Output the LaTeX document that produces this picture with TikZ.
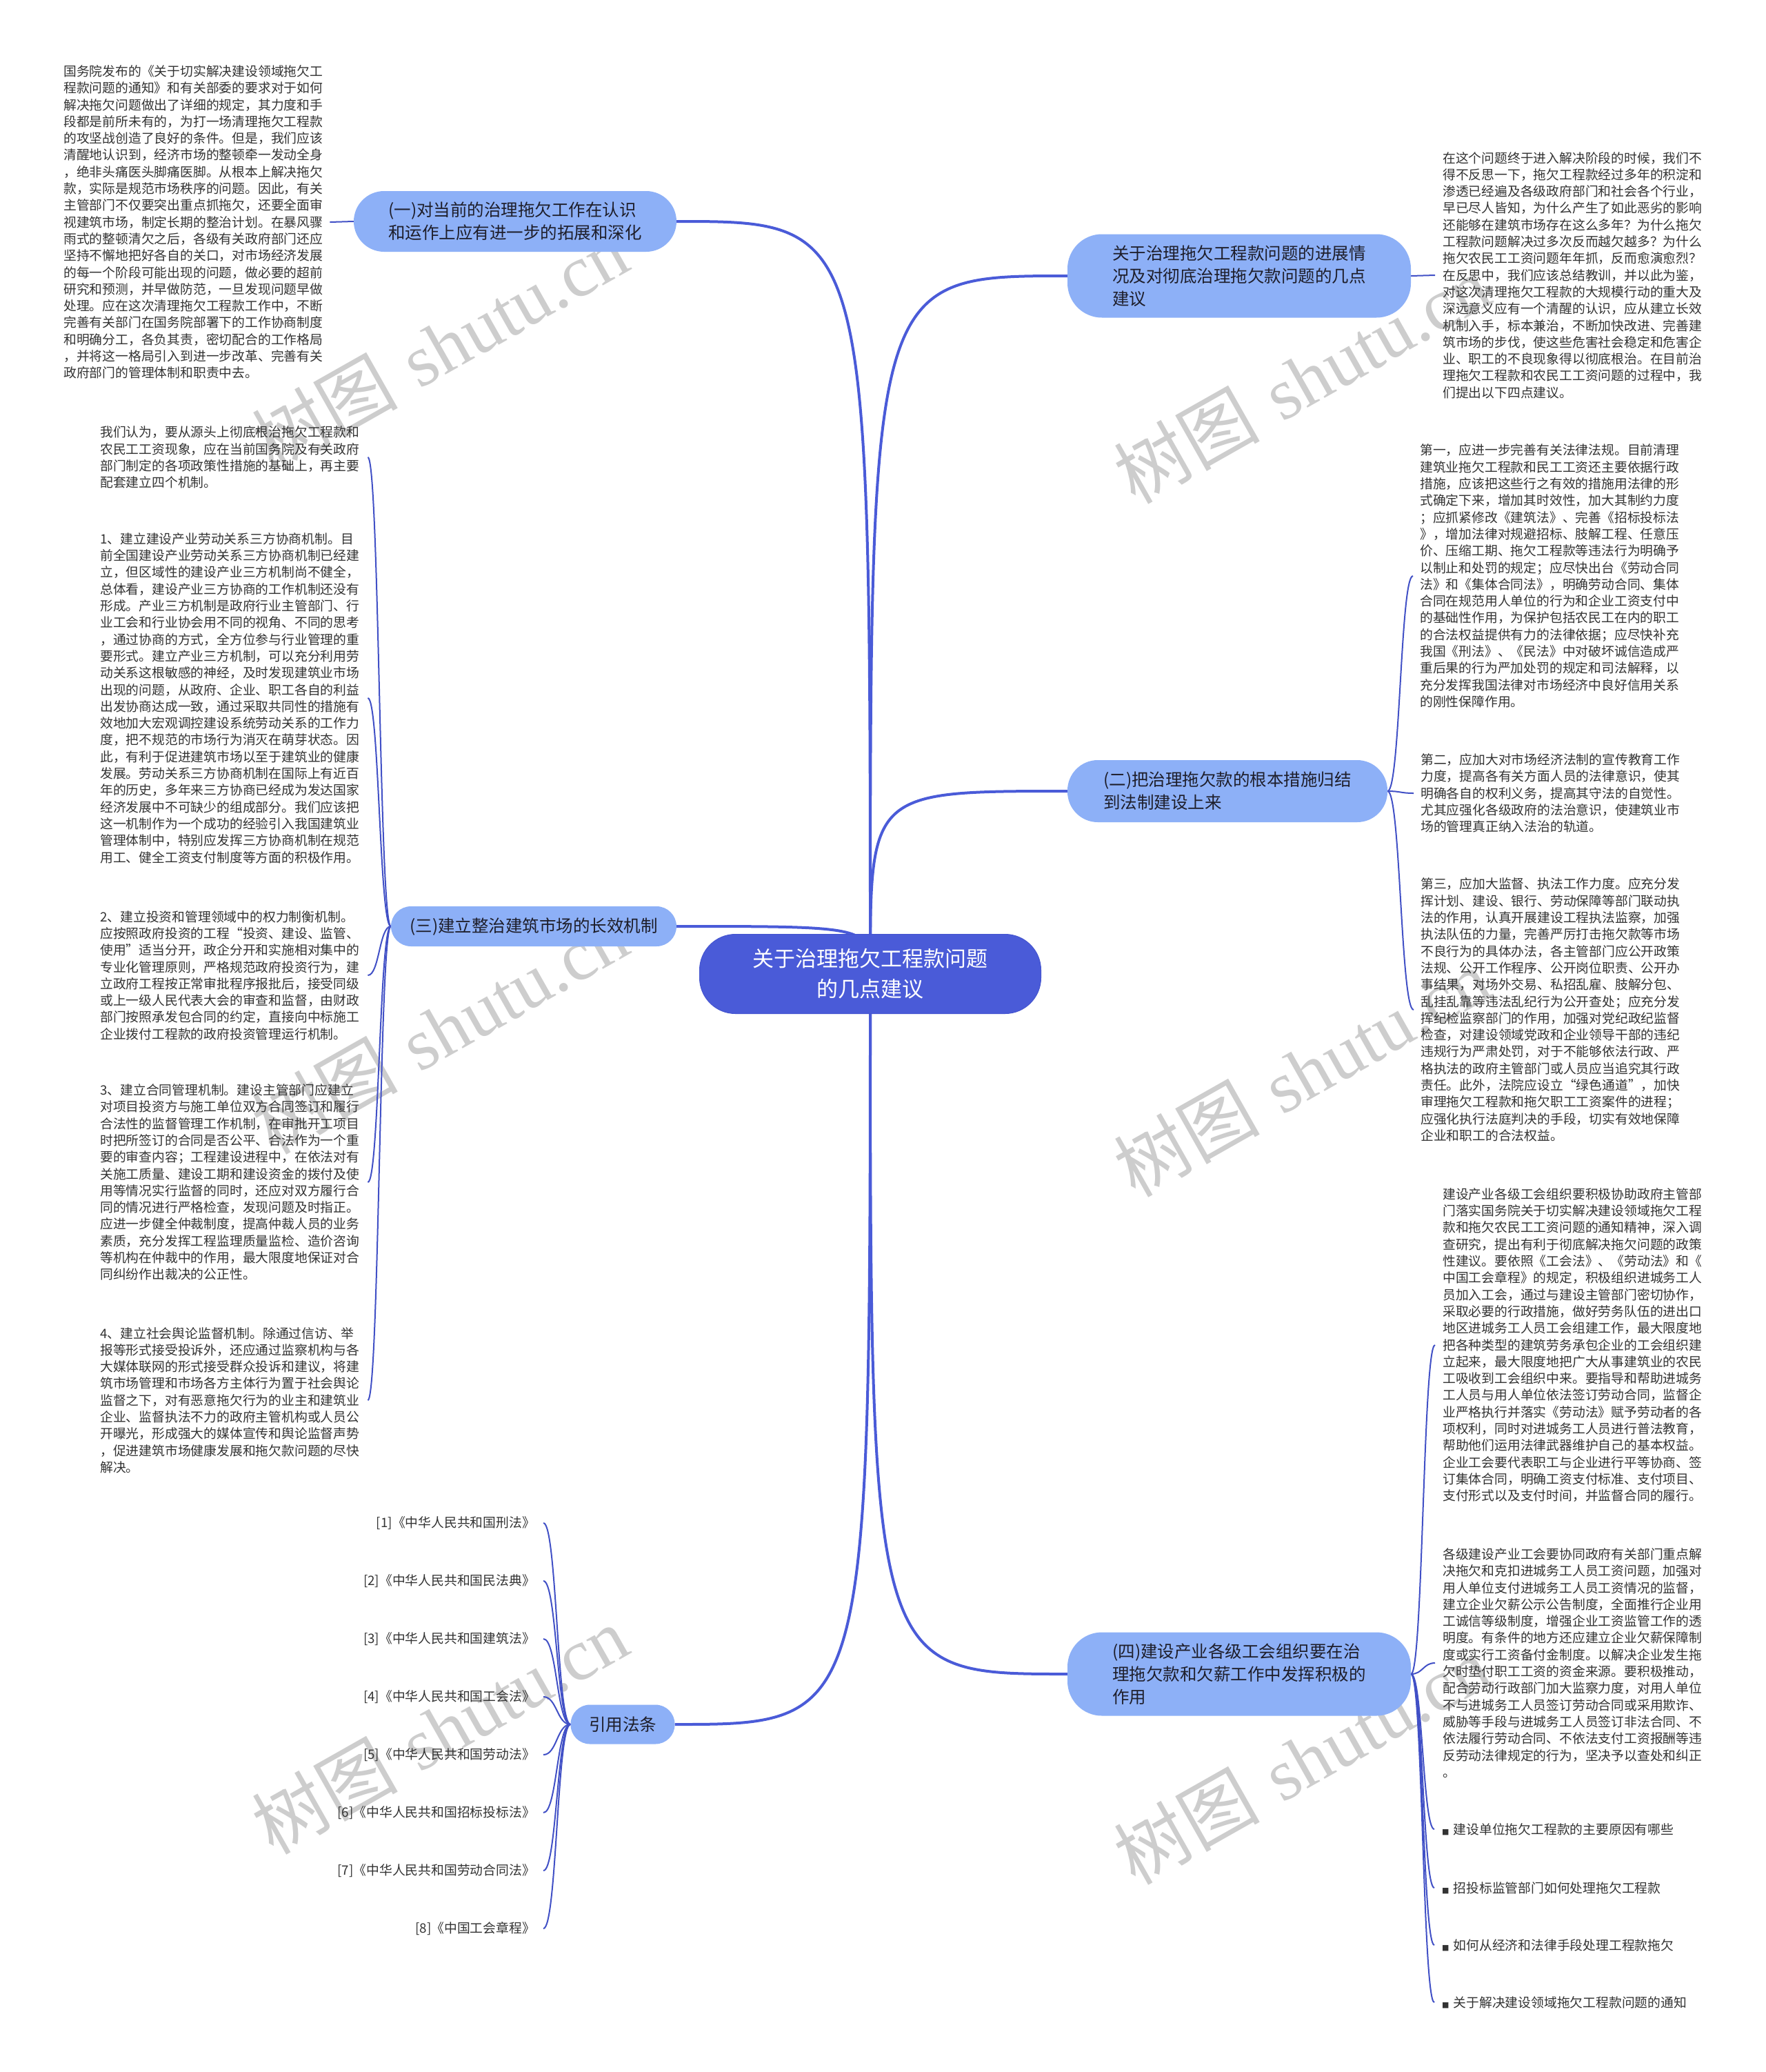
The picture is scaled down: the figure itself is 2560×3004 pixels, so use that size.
\documentclass[tikz,border=0pt]{standalone}
\usepackage{fontspec}
\newfontfamily\cjk{Noto Sans CJK SC}
\newfontfamily\dejavu{DejaVu Sans}
\newfontfamily\wmserif{Liberation Serif}
\usetikzlibrary{backgrounds,calc}
\definecolor{cmain}{HTML}{4A5BD8}
\definecolor{cmaindark}{HTML}{4555CF}
\definecolor{cbranch}{HTML}{8DB0F7}
\definecolor{cline}{HTML}{4150C6}
\definecolor{ctext}{HTML}{333333}
\definecolor{cbtext}{HTML}{1E1E2A}
\definecolor{cwm}{HTML}{CDCDCD}
\pgfdeclarelayer{bottom}
\pgfsetlayers{bottom,background,main}
\begin{document}
\begin{tikzpicture}[x=1pt,y=-1pt,
 rootnode/.style={fill=cmain, draw=cmaindark, line width=1pt, rounded corners=52pt, text=white, align=center, font=\cjk\fontsize{31}{44}\selectfont, minimum width=495pt, minimum height=115pt, inner sep=0pt},
 branch/.style={fill=cbranch, draw=none, text=cbtext, align=left, font=\cjk\fontsize{24.5}{33}\selectfont, inner sep=0pt},
 blk/.style={inner sep=0pt, align=left, text=ctext, font=\cjk\fontsize{18.8}{24.3}\selectfont},
 wm/.style={text=cwm, inner sep=0pt, font=\fontsize{106}{106}\selectfont, rotate=29.5},
 mainconn/.style={draw=cmain, line width=4pt, to path={let \p1=(\tikztostart), \p2=(\tikztotarget) in .. controls (\x1,\y2) and (\x1,\y2) .. (\tikztotarget)}},
 leafconn/.style={draw=cline, line width=2pt, to path={let \p1=(\tikztostart), \p2=(\tikztotarget) in .. controls ({(\x1+\x2)/2},\y1) and ({(\x1+\x2)/2},\y2) .. (\tikztotarget)}}
]
\useasboundingbox (0,0) rectangle (2560,3004);
\begin{pgfonlayer}{bottom}
\fill[white] (0,0) rectangle (2560,3004);
\node[wm] (W1) at (638,502) {{\cjk 树图} {\wmserif shutu.cn}};
\node[wm] (W2) at (638,1493) {{\cjk 树图} {\wmserif shutu.cn}};
\node[wm] (W3) at (638,2508) {{\cjk 树图} {\wmserif shutu.cn}};
\node[wm] (W4) at (1888,550) {{\cjk 树图} {\wmserif shutu.cn}};
\node[wm] (W5) at (1888,1555) {{\cjk 树图} {\wmserif shutu.cn}};
\node[wm] (W6) at (1888,2552) {{\cjk 树图} {\wmserif shutu.cn}};
\end{pgfonlayer}

% root
\node[rootnode] (C) at (1262,1412) {关于治理拖欠工程款问题\\的几点建议};

% branches
\node[branch, minimum width=468pt, minimum height=88pt, rounded corners=44pt] (B1) at (747,321) {(一)对当前的治理拖欠工作在认识\\和运作上应有进一步的拓展和深化};
\node[branch, minimum width=498pt, minimum height=121pt, rounded corners=50pt] (B2) at (1797,400) {关于治理拖欠工程款问题的进展情\\况及对彻底治理拖欠款问题的几点\\建议};
\node[branch, minimum width=464pt, minimum height=90pt, rounded corners=44pt] (B3) at (1780,1147) {(二)把治理拖欠款的根本措施归结\\到法制建设上来};
\node[branch, minimum width=414pt, minimum height=58pt, rounded corners=29pt] (B4) at (774,1343) {(三)建立整治建筑市场的长效机制};
\node[branch, minimum width=151pt, minimum height=57pt, rounded corners=28pt] (B5) at (903,2500) {引用法条};
\node[branch, minimum width=498pt, minimum height=121pt, rounded corners=50pt] (B6) at (1797,2427) {(四)建设产业各级工会组织要在治\\理拖欠款和欠薪工作中发挥积极的\\作用};

% left blocks
\node[blk, anchor=west] (L0) at (92,322) {国务院发布的《关于切实解决建设领域拖欠工\\程款问题的通知》和有关部委的要求对于如何\\解决拖欠问题做出了详细的规定，其力度和手\\段都是前所未有的，为打一场清理拖欠工程款\\的攻坚战创造了良好的条件。但是，我们应该\\清醒地认识到，经济市场的整顿牵一发动全身\\，绝非头痛医头脚痛医脚。从根本上解决拖欠\\款，实际是规范市场秩序的问题。因此，有关\\主管部门不仅要突出重点抓拖欠，还要全面审\\视建筑市场，制定长期的整治计划。在暴风骤\\雨式的整顿清欠之后，各级有关政府部门还应\\坚持不懈地把好各自的关口，对市场经济发展\\的每一个阶段可能出现的问题，做必要的超前\\研究和预测，并早做防范，一旦发现问题早做\\处理。应在这次清理拖欠工程款工作中，不断\\完善有关部门在国务院部署下的工作协商制度\\和明确分工，各负其责，密切配合的工作格局\\，并将这一格局引入到进一步改革、完善有关\\政府部门的管理体制和职责中去。};

\node[blk, anchor=west] (L1) at (145,663) {我们认为，要从源头上彻底根治拖欠工程款和\\农民工工资现象，应在当前国务院及有关政府\\部门制定的各项政策性措施的基础上，再主要\\配套建立四个机制。};

\node[blk, anchor=west] (L2) at (145,1012) {1、建立建设产业劳动关系三方协商机制。目\\前全国建设产业劳动关系三方协商机制已经建\\立，但区域性的建设产业三方机制尚不健全，\\总体看，建设产业三方协商的工作机制还没有\\形成。产业三方机制是政府行业主管部门、行\\业工会和行业协会用不同的视角、不同的思考\\，通过协商的方式，全方位参与行业管理的重\\要形式。建立产业三方机制，可以充分利用劳\\动关系这根敏感的神经，及时发现建筑业市场\\出现的问题，从政府、企业、职工各自的利益\\出发协商达成一致，通过采取共同性的措施有\\效地加大宏观调控建设系统劳动关系的工作力\\度，把不规范的市场行为消灭在萌芽状态。因\\此，有利于促进建筑市场以至于建筑业的健康\\发展。劳动关系三方协商机制在国际上有近百\\年的历史，多年来三方协商已经成为发达国家\\经济发展中不可缺少的组成部分。我们应该把\\这一机制作为一个成功的经验引入我国建筑业\\管理体制中，特别应发挥三方协商机制在规范\\用工、健全工资支付制度等方面的积极作用。};

\node[blk, anchor=west] (L3) at (145,1414) {2、建立投资和管理领域中的权力制衡机制。\\应按照政府投资的工程“投资、建设、监管、\\使用”适当分开，政企分开和实施相对集中的\\专业化管理原则，严格规范政府投资行为，建\\立政府工程按正常审批程序报批后，接受同级\\或上一级人民代表大会的审查和监督，由财政\\部门按照承发包合同的约定，直接向中标施工\\企业拨付工程款的政府投资管理运行机制。};

\node[blk, anchor=west] (L4) at (145,1714) {3、建立合同管理机制。建设主管部门应建立\\对项目投资方与施工单位双方合同签订和履行\\合法性的监督管理工作机制，在审批开工项目\\时把所签订的合同是否公平、合法作为一个重\\要的审查内容；工程建设进程中，在依法对有\\关施工质量、建设工期和建设资金的拨付及使\\用等情况实行监督的同时，还应对双方履行合\\同的情况进行严格检查，发现问题及时指正。\\应进一步健全仲裁制度，提高仲裁人员的业务\\素质，充分发挥工程监理质量监检、造价咨询\\等机构在仲裁中的作用，最大限度地保证对合\\同纠纷作出裁决的公正性。};

\node[blk, anchor=west] (L5) at (145,2030) {4、建立社会舆论监督机制。除通过信访、举\\报等形式接受投诉外，还应通过监察机构与各\\大媒体联网的形式接受群众投诉和建议，将建\\筑市场管理和市场各方主体行为置于社会舆论\\监督之下，对有恶意拖欠行为的业主和建筑业\\企业、监督执法不力的政府主管机构或人员公\\开曝光，形成强大的媒体宣传和舆论监督声势\\，促进建筑市场健康发展和拖欠款问题的尽快\\解决。};

% references
\node[blk, anchor=east] (F1) at (776,2208) {[1]《中华人民共和国刑法》};
\node[blk, anchor=east] (F2) at (776,2292) {[2]《中华人民共和国民法典》};
\node[blk, anchor=east] (F3) at (776,2376) {[3]《中华人民共和国建筑法》};
\node[blk, anchor=east] (F4) at (776,2460) {[4]《中华人民共和国工会法》};
\node[blk, anchor=east] (F5) at (776,2544) {[5]《中华人民共和国劳动法》};
\node[blk, anchor=east] (F6) at (776,2628) {[6]《中华人民共和国招标投标法》};
\node[blk, anchor=east] (F7) at (776,2712) {[7]《中华人民共和国劳动合同法》};
\node[blk, anchor=east] (F8) at (776,2796) {[8]《中国工会章程》};

% right blocks
\node[blk, anchor=west] (R0) at (2092,399) {在这个问题终于进入解决阶段的时候，我们不\\得不反思一下，拖欠工程款经过多年的积淀和\\渗透已经遍及各级政府部门和社会各个行业，\\早已尽人皆知，为什么产生了如此恶劣的影响\\还能够在建筑市场存在这么多年？为什么拖欠\\工程款问题解决过多次反而越欠越多？为什么\\拖欠农民工工资问题年年抓，反而愈演愈烈？\\在反思中，我们应该总结教训，并以此为鉴，\\对这次清理拖欠工程款的大规模行动的重大及\\深远意义应有一个清醒的认识，应从建立长效\\机制入手，标本兼治，不断加快改进、完善建\\筑市场的步伐，使这些危害社会稳定和危害企\\业、职工的不良现象得以彻底根治。在目前治\\理拖欠工程款和农民工工资问题的过程中，我\\们提出以下四点建议。};

\node[blk, anchor=west] (R1) at (2059,835) {第一，应进一步完善有关法律法规。目前清理\\建筑业拖欠工程款和民工工资还主要依据行政\\措施，应该把这些行之有效的措施用法律的形\\式确定下来，增加其时效性，加大其制约力度\\；应抓紧修改《建筑法》、完善《招标投标法\\》，增加法律对规避招标、肢解工程、任意压\\价、压缩工期、拖欠工程款等违法行为明确予\\以制止和处罚的规定；应尽快出台《劳动合同\\法》和《集体合同法》，明确劳动合同、集体\\合同在规范用人单位的行为和企业工资支付中\\的基础性作用，为保护包括农民工在内的职工\\的合法权益提供有力的法律依据；应尽快补充\\我国《刑法》、《民法》中对破坏诚信造成严\\重后果的行为严加处罚的规定和司法解释，以\\充分发挥我国法律对市场经济中良好信用关系\\的刚性保障作用。};

\node[blk, anchor=west] (R2) at (2060,1150) {第二，应加大对市场经济法制的宣传教育工作\\力度，提高各有关方面人员的法律意识，使其\\明确各自的权利义务，提高其守法的自觉性。\\尤其应强化各级政府的法治意识，使建筑业市\\场的管理真正纳入法治的轨道。};

\node[blk, anchor=west] (R3) at (2060,1464) {第三，应加大监督、执法工作力度。应充分发\\挥计划、建设、银行、劳动保障等部门联动执\\法的作用，认真开展建设工程执法监察，加强\\执法队伍的力量，完善严厉打击拖欠款等市场\\不良行为的具体办法，各主管部门应公开政策\\法规、公开工作程序、公开岗位职责、公开办\\事结果，对场外交易、私招乱雇、肢解分包、\\乱挂乱靠等违法乱纪行为公开查处；应充分发\\挥纪检监察部门的作用，加强对党纪政纪监督\\检查，对建设领域党政和企业领导干部的违纪\\违规行为严肃处罚，对于不能够依法行政、严\\格执法的政府主管部门或人员应当追究其行政\\责任。此外，法院应设立“绿色通道”，加快\\审理拖欠工程款和拖欠职工工资案件的进程；\\应强化执行法庭判决的手段，切实有效地保障\\企业和职工的合法权益。};

\node[blk, anchor=west] (R4) at (2092,1950) {建设产业各级工会组织要积极协助政府主管部\\门落实国务院关于切实解决建设领域拖欠工程\\款和拖欠农民工工资问题的通知精神，深入调\\查研究，提出有利于彻底解决拖欠问题的政策\\性建议。要依照《工会法》、《劳动法》和《\\中国工会章程》的规定，积极组织进城务工人\\员加入工会，通过与建设主管部门密切协作，\\采取必要的行政措施，做好劳务队伍的进出口\\地区进城务工人员工会组建工作，最大限度地\\把各种类型的建筑劳务承包企业的工会组织建\\立起来，最大限度地把广大从事建筑业的农民\\工吸收到工会组织中来。要指导和帮助进城务\\工人员与用人单位依法签订劳动合同，监督企\\业严格执行并落实《劳动法》赋予劳动者的各\\项权利，同时对进城务工人员进行普法教育，\\帮助他们运用法律武器维护自己的基本权益。\\企业工会要代表职工与企业进行平等协商、签\\订集体合同，明确工资支付标准、支付项目、\\支付形式以及支付时间，并监督合同的履行。};

\node[blk, anchor=west] (R5) at (2092,2411) {各级建设产业工会要协同政府有关部门重点解\\决拖欠和克扣进城务工人员工资问题，加强对\\用人单位支付进城务工人员工资情况的监督，\\建立企业欠薪公示公告制度，全面推行企业用\\工诚信等级制度，增强企业工资监管工作的透\\明度。有条件的地方还应建立企业欠薪保障制\\度或实行工资备付金制度。以解决企业发生拖\\欠时垫付职工工资的资金来源。要积极推动，\\配合劳动行政部门加大监察力度，对用人单位\\不与进城务工人员签订劳动合同或采用欺诈、\\威胁等手段与进城务工人员签订非法合同、不\\依法履行劳动合同、不依法支付工资报酬等违\\反劳动法律规定的行为，坚决予以查处和纠正\\。};

% links
\node[blk, anchor=west] (K1) at (2091,2652) {{\dejavu\fontsize{11}{11}\selectfont ■}\hspace{6pt}建设单位拖欠工程款的主要原因有哪些};
\node[blk, anchor=west] (K2) at (2091,2737) {{\dejavu\fontsize{11}{11}\selectfont ■}\hspace{6pt}招投标监管部门如何处理拖欠工程款};
\node[blk, anchor=west] (K3) at (2091,2820) {{\dejavu\fontsize{11}{11}\selectfont ■}\hspace{6pt}如何从经济和法律手段处理工程款拖欠};
\node[blk, anchor=west] (K4) at (2091,2903) {{\dejavu\fontsize{11}{11}\selectfont ■}\hspace{6pt}关于解决建设领域拖欠工程款问题的通知};

% anchors for leaf connectors
\coordinate (aL0) at ([xshift=10pt]L0.east);
\foreach \nm in {L1,L2,L3,L4,L5}{\coordinate (a\nm) at ([xshift=12pt]\nm.east);}
\foreach \nm in {F1,F2,F3,F4,F5,F6,F7,F8}{\coordinate (a\nm) at ([xshift=12pt]\nm.east);}
\foreach \nm in {R1,R2,R3}{\coordinate (a\nm) at ([xshift=-10pt]\nm.west);}
\foreach \nm in {R0,R4,R5,K1,K2,K3,K4}{\coordinate (a\nm) at ([xshift=-11pt]\nm.west);}

\begin{pgfonlayer}{background}
\draw[mainconn] (C.center) to (B1.east);
\draw[mainconn] (C.center) to (B2.west);
\draw[mainconn] (C.center) to (B3.west);
\draw[mainconn] (C.center) to (B4.east);
\draw[mainconn] (C.center) to (B5.east);
\draw[mainconn] (C.center) to (B6.west);
\draw[leafconn] (B1.west) to (aL0);
\draw[leafconn] (B2.east) to (aR0);
\draw[leafconn] (B3.east) to (aR1);
\draw[leafconn] (B3.east) to (aR2);
\draw[leafconn] (B3.east) to (aR3);
\draw[leafconn] (B4.west) to (aL1);
\draw[leafconn] (B4.west) to (aL2);
\draw[leafconn] (B4.west) to (aL3);
\draw[leafconn] (B4.west) to (aL4);
\draw[leafconn] (B4.west) to (aL5);
\draw[leafconn] (B5.west) to (aF1);
\draw[leafconn] (B5.west) to (aF2);
\draw[leafconn] (B5.west) to (aF3);
\draw[leafconn] (B5.west) to (aF4);
\draw[leafconn] (B5.west) to (aF5);
\draw[leafconn] (B5.west) to (aF6);
\draw[leafconn] (B5.west) to (aF7);
\draw[leafconn] (B5.west) to (aF8);
\draw[leafconn] (B6.east) to (aR4);
\draw[leafconn] (B6.east) to (aR5);
\draw[leafconn] (B6.east) to (aK1);
\draw[leafconn] (B6.east) to (aK2);
\draw[leafconn] (B6.east) to (aK3);
\draw[leafconn] (B6.east) to (aK4);
\end{pgfonlayer}
\end{tikzpicture}
\end{document}
